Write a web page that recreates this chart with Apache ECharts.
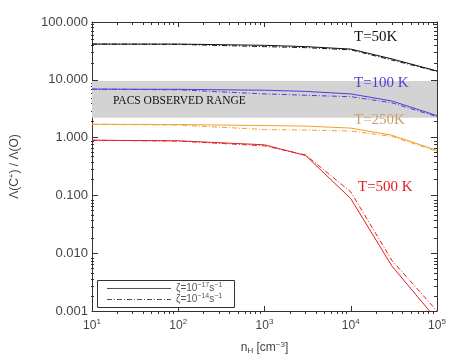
<!DOCTYPE html>
<html>
<head>
<meta charset="utf-8">
<script src="https://cdn.jsdelivr.net/npm/echarts@6/dist/echarts.min.js"></script>
<style>html,body{margin:0;padding:0;background:#fff}#main{width:463px;height:360px}</style>
</head>
<body>
<div id="main"></div>
<script>
// densities n_H (cm^-3)
var nH = [10, 100, 1000, 3000, 10000, 30000, 100000];
// ratio for zeta=1e-17 (solid) and zeta=1e-14 (dash-dot)
var t50Low   = [41.5, 41.5, 39.5, 37.5, 34, 23, 14.2];
var t50High  = [41.5, 41, 37.5, 36, 33, 22, 14];
var t100Low  = [6.9, 6.85, 6.6, 6.3, 5.7, 4.3, 2.4];
var t100High = [6.9, 6.7, 5.7, 5.4, 5.1, 4.0, 2.3];
var t250Low  = [1.7, 1.68, 1.62, 1.58, 1.46, 1.1, 0.6];
var t250High = [1.7, 1.65, 1.38, 1.35, 1.3, 1.05, 0.58];
var t500Low  = [0.9, 0.88, 0.75, 0.49, 0.088, 0.006, 0.0007];
var t500High = [0.9, 0.87, 0.72, 0.5, 0.115, 0.0075, 0.001];
var pacsRange = [2.2, 9.5];
var xMajor = [10, 100, 1000, 10000, 100000];
var yMajor = [0.001, 0.01, 0.1, 1, 10, 100];

function minorTicks(lo, hi) {
	var out = [];
	for (var d = lo; d < hi; d++) {
		for (var k = 2; k <= 9; k++) out.push(+(k * Math.pow(10, d)).toPrecision(3));
	}
	return out;
}
var xMinor = minorTicks(1, 5);
var yMinor = minorTicks(-3, 2);

var dashDot = [5, 2, 1, 2];
var axisColor = '#333';

function mkSeries(name, data, color, dash) {
	return {
		name: name, type: 'line', data: nH.map(function (x, i) { return [x, data[i]]; }),
		symbol: 'none', silent: true, clip: true,
		lineStyle: {color: color, width: 1, type: dash ? dashDot : 'solid'}
	};
}

function xAx(grid, pos, ticks, len, labels) {
	return {
		type: 'log', gridIndex: grid, position: pos, min: 10, max: 100000, logBase: 10,
		axisLine: {show: grid === 0, lineStyle: {color: axisColor}},
		axisTick: {show: true, inside: true, length: len, customValues: ticks, lineStyle: {color: axisColor}},
		axisLabel: labels ? {
			customValues: xMajor, margin: 7, color: '#444', fontFamily: 'Liberation Sans', fontSize: 12,
			formatter: function (v) { return '10{s|' + Math.round(Math.log10(v)) + '}'; },
			rich: {s: {fontSize: 8, verticalAlign: 'top', padding: [0, 0, 8, 0], color: '#444', fontFamily: 'Liberation Sans'}}
		} : {show: false},
		splitLine: {show: false},
		name: labels ? 'n{sub|H} [cm{sup|−3}]' : '', nameLocation: 'middle', nameGap: 30,
		nameTextStyle: {color: '#444', fontFamily: 'Liberation Sans', fontSize: 12,
			rich: {sub: {fontSize: 8, verticalAlign: 'bottom', color: '#444'}, sup: {fontSize: 8, verticalAlign: 'top', padding: [0, 0, 6, 0], color: '#444'}}}
	};
}

function yAx(grid, pos, ticks, len, labels) {
	return {
		type: 'log', gridIndex: grid, position: pos, min: 0.001, max: 100, logBase: 10,
		axisLine: {show: grid === 0, lineStyle: {color: axisColor}},
		axisTick: {show: true, inside: true, length: len, customValues: ticks, lineStyle: {color: axisColor}},
		axisLabel: labels ? {
			customValues: yMajor, margin: 4, color: '#444', fontFamily: 'Liberation Sans', fontSize: 13,
			formatter: function (v) { return v.toFixed(3); }
		} : {show: false},
		splitLine: {show: false},
		name: labels ? 'Λ(C{sup|+}) / Λ(O)' : '', nameLocation: 'middle', nameGap: 70, nameRotate: 90,
		nameTextStyle: {color: '#444', fontFamily: 'Liberation Sans', fontSize: 12,
			rich: {sup: {fontSize: 8, verticalAlign: 'top', padding: [0, 0, 6, 0], color: '#444'}}}
	};
}

var gridBox = {left: 91, right: 26, top: 22, bottom: 46};

var series = [
	mkSeries('50low', t50Low, '#111', false),
	mkSeries('50high', t50High, '#111', true),
	mkSeries('100low', t100Low, '#4b40d8', false),
	mkSeries('100high', t100High, '#4b40d8', true),
	mkSeries('250low', t250Low, '#f0a030', false),
	mkSeries('250high', t250High, '#f0a030', true),
	mkSeries('500low', t500Low, '#e02020', false),
	mkSeries('500high', t500High, '#e02020', true)
];
// grey band of observed range
series.unshift({
	name: 'pacs', type: 'line', data: [], silent: true, z: 0,
	markArea: {silent: true, itemStyle: {color: '#d3d3d3'},
		data: [[{yAxis: pacsRange[0]}, {yAxis: pacsRange[1]}]]}
});

var serif = 'Liberation Serif';
var legText = {fontFamily: 'Liberation Sans', fontSize: 10, fill: '#555',
	rich: {s: {fontSize: 7, verticalAlign: 'top', padding: [0, 0, 5, 0], color: '#555'}}};

var chart = echarts.init(document.getElementById('main'));
chart.setOption({
	animation: false,
	backgroundColor: '#fff',
	grid: [gridBox, gridBox],
	xAxis: [
		xAx(0, 'bottom', xMajor, 5, true),
		xAx(0, 'top', xMajor, 5, false),
		xAx(1, 'bottom', xMinor, 3, false),
		xAx(1, 'top', xMinor, 3, false)
	],
	yAxis: [
		yAx(0, 'left', yMajor, 6, true),
		yAx(0, 'right', yMajor, 6, false),
		yAx(1, 'left', yMinor, 3, false),
		yAx(1, 'right', yMinor, 3, false)
	],
	series: series,
	graphic: {elements: [
		{type: 'text', z: 100, left: 354, top: 30, style: {text: 'T=50K', font: '15px ' + serif, fill: '#111'}},
		{type: 'text', z: 100, left: 354, top: 76, style: {text: 'T=100 K', font: '15px ' + serif, fill: '#4b40d8'}},
		{type: 'text', z: 100, left: 354, top: 113, style: {text: 'T=250K', font: '15px ' + serif, fill: '#c8a070'}},
		{type: 'text', z: 100, left: 358, top: 180, style: {text: 'T=500 K', font: '15px ' + serif, fill: '#e02020'}},
		{type: 'text', z: 100, left: 113, top: 95, style: {text: 'PACS OBSERVED RANGE', font: '11.5px ' + serif, fill: '#111'}},
		{type: 'rect', z: 100, shape: {x: 97.5, y: 280.5, width: 137, height: 27}, style: {fill: '#fff', stroke: '#333', lineWidth: 1}},
		{type: 'line', z: 101, shape: {x1: 107, y1: 288.5, x2: 171, y2: 288.5}, style: {stroke: '#555', lineWidth: 1}},
		{type: 'line', z: 101, shape: {x1: 107, y1: 299.5, x2: 171, y2: 299.5}, style: {stroke: '#555', lineWidth: 1, lineDash: dashDot}},
		{type: 'text', z: 101, left: 176, top: 282, style: Object.assign({text: 'ζ=10{s|−17}s{s|−1}'}, legText)},
		{type: 'text', z: 101, left: 176, top: 293, style: Object.assign({text: 'ζ=10{s|−14}s{s|−1}'}, legText)}
	]}
});
</script>
</body>
</html>
